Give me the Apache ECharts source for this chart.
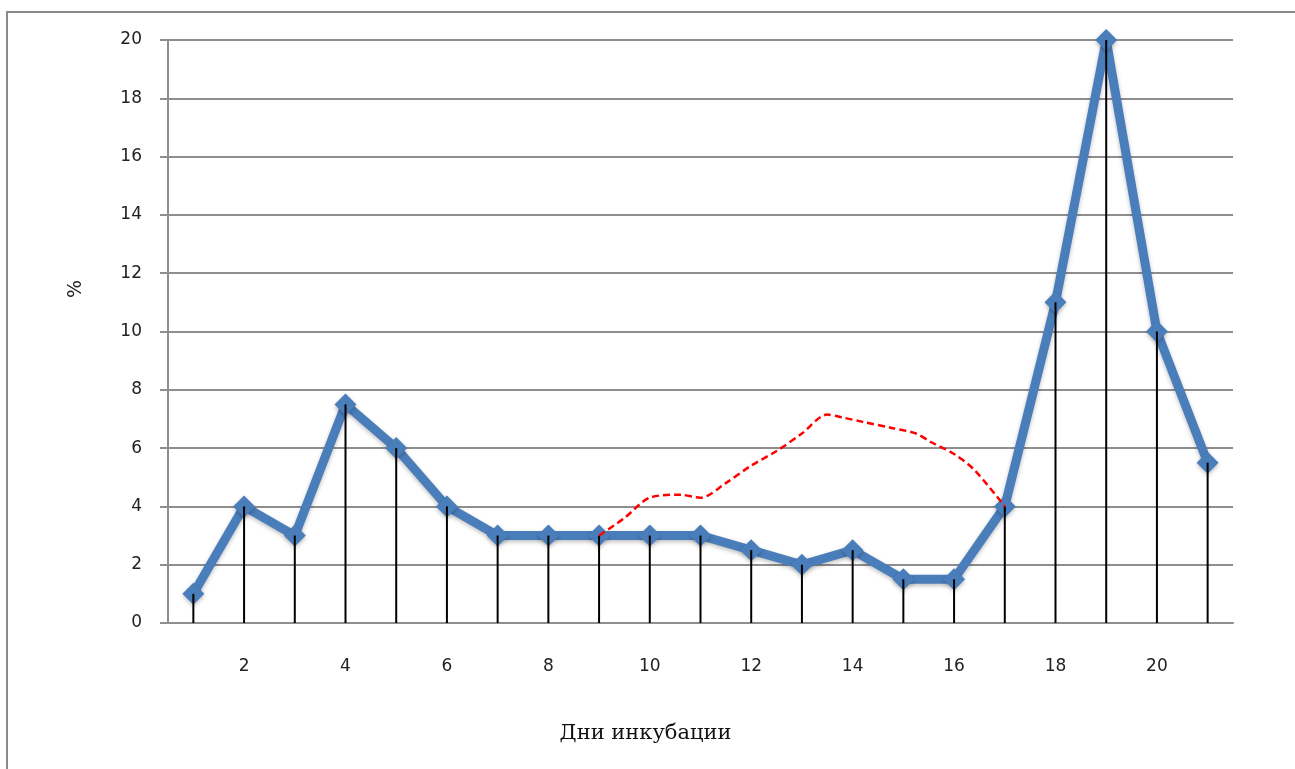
<!DOCTYPE html>
<html>
<head>
<meta charset="utf-8">
<script src="https://cdn.jsdelivr.net/npm/echarts@6/dist/echarts.min.js"></script>
<style>
  html, body { margin: 0; padding: 0; background: #fff; }
  #chart { width: 1295px; height: 769px; }
</style>
</head>
<body>
<div id="chart"></div>
<script>
// Incubation days 1..21
const days = ['1','2','3','4','5','6','7','8','9','10','11','12','13','14','15','16','17','18','19','20','21'];
// Share of events per day, %
const percent = [1, 4, 3, 7.5, 6, 4, 3, 3, 3, 3, 3, 2.5, 2, 2.5, 1.5, 1.5, 4, 11, 20, 10, 5.5];
// Dashed curve over days 9..17: [day, %]
const curveDay = [9, 9.5, 10, 10.6, 11, 11.5, 12, 12.5, 13, 13.5, 13.8, 14.2, 14.75, 15.25, 15.55, 16, 16.4, 17];
const curvePct = [3, 3.6, 4.3, 4.4, 4.3, 4.8, 5.4, 5.9, 6.5, 7.15, 7.05, 6.9, 6.7, 6.5, 6.2, 5.8, 5.25, 4];
const yTitle = '%';
const xTitle = 'Дни инкубации';

const curve = curveDay.map((d, i) => [d, curvePct[i]]);

const chart = echarts.init(document.getElementById('chart'), null, { renderer: 'canvas' });

const gridGray = '#8e8e8e';

chart.setOption({
  animation: false,
  backgroundColor: '#ffffff',
  graphic: [{
    type: 'rect',
    shape: { x: 7, y: 12, width: 1320, height: 800 },
    style: { fill: 'none', stroke: '#8a8a8a', lineWidth: 2 },
    silent: true
  }, {
    // vertical axis title
    type: 'text',
    x: 76,
    y: 289,
    rotation: Math.PI / 2,
    style: {
      text: yTitle,
      fontFamily: 'DejaVu Sans',
      fontSize: 19,
      fill: '#222',
      align: 'center',
      verticalAlign: 'middle'
    },
    silent: true
  }],
  grid: { left: 168, right: 62, top: 40, bottom: 146 },
  xAxis: [{
    type: 'category',
    data: days,
    boundaryGap: true,
    name: xTitle,
    nameLocation: 'middle',
    nameGap: 100,
    nameTextStyle: {
      fontFamily: 'DejaVu Serif', fontSize: 21, color: '#111',
      padding: [0, 110, 0, 0]
    },
    axisLine: { show: true, lineStyle: { color: gridGray, width: 2 } },
    axisTick: { show: false },
    axisLabel: {
      interval: (idx) => idx % 2 === 1,
      margin: 35,
      fontFamily: 'DejaVu Sans',
      fontSize: 17,
      color: '#222'
    },
    splitLine: { show: false }
  }, {
    type: 'value',
    min: 0.5,
    max: 21.5,
    show: false
  }],
  yAxis: {
    type: 'value',
    min: 0,
    max: 20,
    interval: 2,
    axisLine: { show: true, lineStyle: { color: gridGray, width: 2 } },
    axisTick: { show: true, inside: false, length: 8, lineStyle: { color: gridGray, width: 2 } },
    axisLabel: { margin: 26, fontFamily: 'DejaVu Sans', fontSize: 17, color: '#222' },
    splitLine: { show: true, lineStyle: { color: gridGray, width: 2 } }
  },
  series: [{
    name: 'percent',
    type: 'line',
    xAxisIndex: 0,
    data: percent,
    z: 2,
    lineStyle: {
      color: '#4a7ebb', width: 9,
      shadowColor: 'rgba(0,0,0,0.25)', shadowBlur: 4, shadowOffsetY: 2
    },
    symbol: 'diamond',
    symbolSize: 22,
    itemStyle: {
      color: '#4a7ebb',
      shadowColor: 'rgba(0,0,0,0.25)', shadowBlur: 4, shadowOffsetY: 2
    }
  }, {
    name: 'drop',
    type: 'bar',
    xAxisIndex: 0,
    data: percent,
    barWidth: 2,
    z: 3,
    itemStyle: { color: '#000' }
  }, {
    name: 'curve',
    type: 'line',
    xAxisIndex: 1,
    data: curve,
    smooth: 0.3,
    symbol: 'none',
    z: 4,
    lineStyle: { color: '#ff0000', width: 2.5, type: [7, 4] }
  }]
});
</script>
</body>
</html>
